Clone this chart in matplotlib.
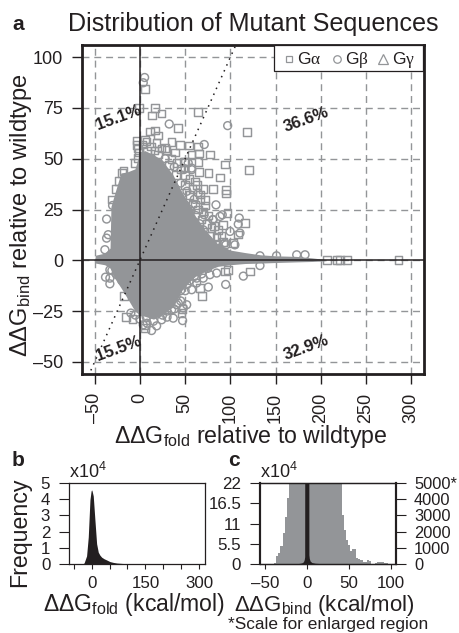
import matplotlib
matplotlib.use("Agg")
import matplotlib.pyplot as plt
from matplotlib.lines import Line2D
from matplotlib.patches import Rectangle

plt.rcParams['font.family'] = ['Liberation Sans', 'DejaVu Sans']
plt.rcParams['mathtext.fontset'] = 'custom'
plt.rcParams['mathtext.rm'] = 'Liberation Sans'
plt.rcParams['mathtext.it'] = 'Liberation Sans'
plt.rcParams['mathtext.default'] = 'regular'

GREY = '#939598'
INK = '#231f20'

# ---- panel a: dense cloud envelope
cloud_x = [-50, -49, -39, -33, -32, -28.4, -21, -14, -5.5, 0, 5.5, 15, 24, 30, 36.6, 46, 54, 61, 72, 86,
           100, 116, 133, 150, 173, 190, 199, 206]
cloud_top = [0.5, 2.5, 3.5, 6, 26.5, 32, 43, 43.5, 45, 53, 54, 52, 49.5, 46, 42, 34, 28, 22, 15, 8,
             5, 3.8, 2.7, 2.2, 1.9, 1.2, 0.7, 0.2]
cloud_low = [-0.5, -1.4, -2.2, -3.5, -5, -8.5, -13.5, -18.6, -25, -27, -27.6, -29, -27, -25, -23, -15, -11, -8, -5.5, -3,
             -2.2, -1.6, -1.4, -1.1, -0.8, -0.6, -0.4, -0.2]

# ---- panel a: individual outliers
sq_x = [5.9, -0.8, 16.6, 13.6, 24, 64.2, 42.4, 118.4, 120.6, 94, 88.5, 77.4, 75.6, 64.5, 54.5, 44.2, 35, 65.6, 64.9,
        65.6, 57.2, 48.7, 41.3, 38.7, 29.5, -3.7, 5.9, 11, 16.6, 20.2, 60.8, 95.1, 95.1, 81, 70, 97, -3, 7.4, 18.5,
        27.7, -1.9, 49.8, 71.9, 60.8, 79.3, 84.8, 66.4, 116, 108.7, 103.2, 92.1,
        68.3, 66.4, 46.1, 5.5, -15.5, -8.1, -17.4, 121.7, 94, 97.7, 47.2, 5.5,
        206.5, 217.6, 221.2, 228.6, 285.7,
        35, 32, 45, 40, 50, 55, 50, 58, 55, 63, 67, 72, 70, 76, 74, 82, 78, 86, 90, 84, 92, 68, 64, 58,
        -2, 3, 8, 12, 16, 20, 24, -1, 3, -20, -27, -23, -18, -6, -31]
sq_y = [84.3, 75, 75, 71.2, 72.3, 73, 65.1, 63.2, 44.4, 47.2, 40.8, 52, 43.1, 56.1, 56.6, 56.7, 58.2, 52.5, 48.4,
        43.6, 52, 48.5, 48, 53.1, 54.4, 59, 59.4, 63.4, 63.9, 61.5, 38.8, 34.7, 32.8, 35.2, 35.2, 23.4, 56.9, 58.5, 57.7,
        55.3, 50.3, 48.7, 29.8, 27.3, 15.9, 11.4, 32.3, 18.3, 12.6, 8.5, 17.5,
        -17.5, -13.7, -26, -33.4, -27.8, -29, -17.5, -5.5, -5.5, -4.7, -24, -31.8,
        0, 0, 0, 0, 0,
        50, 47, 45, 42, 42, 40, 37, 35, 32, 37, 30, 27, 24, 22, 18, 17, 12, 15, 12, 8, 9, 20, 25, 28,
        55, 57, 54, 56, 54, 52, 55, 53, 51, 43, 35, 39, 44, 48, 30]
ci_x = [5.2, 3.7, 32.4, 97, 71.1, 57.2, 84.1, 109.8, 88.5, -36.8, -30.2, -36.8, -35, -38.7, 108.7, 110.6, 99.6, 80.4,
        91, 95, 173.3, 182.5, 151, 132.7, 57.2, 53.4, 81, 71, 64.5, 49.8, 105, 94,
        -33.2, -38, -33.2, -33.2, 94.8, 114.3, 132.7, 75.6, 70, 62.7, 51.7, 47.2, 36.8, 12.9, 18.5, 3.7, 42.4, 57.2,
        84.8, 77.4, 68.3, 24, 40.6, 47.9, 35, 62.7,
        38, 45, 52, 60, 62, 66, 70, 75, 80, 88, 55, 50, 28,
        30, 35, 40, 45, 50, 55, 60, 65, 75, 30, 25, 15, 8, 52, 45, 38, 32, -5, 0, 7, -10, -20, -26, -31, -28]
ci_y = [90, 87.4, 67.1, 66.3, 57, 45.4, 27.3, 20.8, 21.6, 20.3, 27, 10.9, 12.6, 5.2, 17.8, 13.4, 14.2, 20,
        22.4, 7.6, 2.7, 2.7, 2.2, 2.2, 44.6, 47.9, 20, 22.4, 33.1, 27.3, 7.6, 8.5,
        -4.7, -8.3, -11.6, -8.8, -11.9, -7.8, -2.6, -13.2, -8.8, -8.8, -21.9, -29.7, -28.5, -34.6, -32.3, -31.8, -21.1, -14.5,
        -6.3, -7.1, -6.7, -29.3, -21.9, -23.5, -24.4, -11.2,
        46, 38, 34, 30, 22, 18, 15, 10, 8, 6, 25, 45, 50,
        -25, -20, -18, -15, -15, -10, -8, -5, -4, -28, -27, -30, -31, -12, -20, -24, -21, -27, -29, -28, -26, -10, -7, -5, -3]

ticks_ax = [-50, 0, 50, 100, 150, 200, 250, 300]
ticks_ay = [-50, -25, 0, 25, 50, 75, 100]
labels_ax = ['\u201350', '0', '50', '100', '150', '200', '250', '300']
labels_ay = ['\u201350', '\u201325', '0', '25', '50', '75', '100']
pct_x = [-23, 184, -24, 184]
pct_y = [70, 69, -43.5, -43]
pct_labels = ['15.1%', '36.6%', '15.5%', '32.9%']

# ---- panel b
b_x = [-30, -25, -21, -14, -9.3, -4.6, -1.5, 0, 1.5, 4.6, 9.3, 14, 18.6, 23, 28, 35, 42, 51, 60, 70, 85, 98, 130, 180, 300]
b_y = [0, 0.01, 0.06, 0.5, 1.67, 3.96, 4.5, 4.58, 4.5, 4.2, 2.7, 1.25, 0.73, 0.55, 0.42, 0.32, 0.25, 0.15, 0.1, 0.06, 0.035, 0.02, 0.012, 0.006, 0.003]
b_xticks = [-50, 0, 50, 100, 150, 200, 250, 300]
b_xlabels = ['', '0', '', '', '150', '', '', '300']
b_yticks = [0, 1, 2, 3, 4, 5]

# ---- panel c
c_bins = [-40, -37.5, -35, -32.5, -30, -27.5, -25, -22.5, -20, -17.5, -15, -12.5, -10, -7.5, -5, -2.5, 0, 2.5, 5, 7.5,
          10, 12.5, 15, 17.5, 20, 22.5, 25, 27.5, 30, 32.5, 35, 37.5, 40, 42.5, 45, 47.5, 50, 52.5, 55, 57.5,
          60, 62.5, 65, 67.5, 70, 72.5, 75, 77.5, 80, 82.5, 85, 87.5, 90, 92.5, 95, 97.5, 100]
c_grey = [20, 60, 500, 700, 1100, 1900, 2900, 4100, 5600, 8000, 12000, 16000, 20000, 20000, 20000, 20000, 20000, 20000, 20000, 20000,
          20000, 20000, 20000, 20000, 16000, 14000, 12000, 10000, 9000, 8000, 7000, 6000, 5600, 3000, 2100, 1500, 1150, 800, 900, 950,
          400, 300, 220, 150, 120, 230, 200, 30, 30, 40, 120, 120, 120, 40, 50, 20, 10]
c_black_x = [-20, -10, -6, -4, -3, -2.5, -2.4, 2.4, 2.5, 3, 4, 6, 10, 20]
c_black_y = [0.05, 0.12, 0.3, 0.6, 1.2, 2, 40, 40, 2.5, 1.5, 0.8, 0.4, 0.2, 0.05]
c_xticks = [-50, 0, 50, 100]
c_xlabels = ['\u201350', '0', '50', '100']
c_lticks = [0, 5.5, 11, 16.5, 22]
c_llabels = ['0', '5.5', '11', '16.5', '22']
c_rticks = [0, 1000, 2000, 3000, 4000, 5000]
c_rlabels = ['0', '1000', '2000', '3000', '4000', '5000*']

W, H = 459, 633
fig = plt.figure(figsize=(W / 100, H / 100), dpi=100, facecolor='white')


def axes_px(l, t, r, b):
    return fig.add_axes([l / W, 1 - b / H, (r - l) / W, (b - t) / H])


def ftext(x, y, s, **kw):
    return fig.text(x / W, 1 - y / H, s, **kw)


# ===== panel a =====
ax = axes_px(82, 45, 424, 374)
ax.set_xlim(-64, 314)
ax.set_ylim(-56, 106)
ax.set_axisbelow(True)
dash = (0, (5, 3.5))
for v in ticks_ax:
    ax.axvline(v, color=GREY, lw=1, ls=dash, zorder=1)
for v in ticks_ay:
    ax.axhline(v, color=GREY, lw=1, ls=dash, zorder=1)
ax.scatter(sq_x, sq_y, marker='s', s=30, facecolors='none', edgecolors=GREY, linewidths=1.05, zorder=2)
ax.scatter(ci_x, ci_y, marker='o', s=32, facecolors='none', edgecolors=GREY, linewidths=1.05, zorder=2)
ax.fill_between(cloud_x, cloud_low, cloud_top, color=GREY, lw=0, zorder=3)
ax.axhline(0, color=INK, lw=1.1, zorder=4)
ax.axvline(0, color=INK, lw=1.1, zorder=4)
ax.plot([-60, 110], [-60, 110], color=INK, lw=1.1, ls=(0, (1, 3.2)), zorder=5)
ax.set_xticks(ticks_ax, labels_ax, rotation=90, fontsize=13)
ax.set_yticks(ticks_ay, labels_ay, fontsize=13)
ax.tick_params(axis='both', length=7.5, width=1, color=INK, labelcolor=INK, pad=6)
for s in ax.spines.values():
    s.set_linewidth(2)
    s.set_color(INK)
    s.set_zorder(8)
for x, y, t in zip(pct_x, pct_y, pct_labels):
    ax.text(x, y, t, rotation=20, fontsize=12, fontweight='bold', color=INK, ha='center', va='center', zorder=7)
ftext(251, 437, '\u0394\u0394G$_{fold}$ relative to wildtype', fontsize=16.7, color=INK, va='center', ha='center')
ftext(21.5, 215, '\u0394\u0394G$_{bind}$ relative to wildtype', fontsize=17, color=INK, rotation=90, va='center', ha='center')

# legend
fig.add_artist(Rectangle((274 / W, 1 - 71 / H), (423 - 274) / W, 26 / H, transform=fig.transFigure,
                         facecolor='white', edgecolor=INK, lw=0.9, zorder=6))
for mx, m, ms in [(289, 's', 5.0), (336.7, 'o', 5.4), (383, '^', 6.6)]:
    fig.add_artist(Line2D([mx / W], [1 - 58.5 / H], marker=m, ms=ms, mfc='none', mec=GREY, mew=0.9,
                          ls='none', transform=fig.transFigure, zorder=7))
for gx, ch in [(297, '\u03b1'), (345, '\u03b2'), (392.5, '\u03b3')]:
    ftext(gx, 59, 'G', fontsize=12.5, color=INK, va='center', ha='left', zorder=7)
    ftext(gx + 13.5, 60, ch, fontsize=12.5, color=INK, va='center', ha='left', family='Liberation Serif', zorder=7)

ftext(12, 25, 'a', fontsize=15, fontweight='bold', color=INK, va='center')
ftext(68, 24, 'Distribution of Mutant Sequences', fontsize=18.1, color=INK, va='center', ha='left')

# ===== panel b =====
axb = axes_px(69, 483, 205, 564)
axb.set_xlim(-63, 316)
axb.set_ylim(0, 5)
axb.fill_between(b_x, 0, b_y, color=INK, lw=0)
axb.set_xticks(b_xticks, b_xlabels, fontsize=12.2)
axb.set_yticks(b_yticks, [str(v) for v in b_yticks], fontsize=12.2)
axb.tick_params(axis='x', length=3.5, width=0.8, color=INK, labelcolor=INK, pad=5)
axb.tick_params(axis='y', length=7, width=0.8, color=INK, labelcolor=INK, pad=6.5)
for s in axb.spines.values():
    s.set_linewidth(0.9)
    s.set_color(INK)
ftext(69, 472, 'x10$^4$', fontsize=13, color=INK, va='center', ha='left')
ftext(134, 605, '\u0394\u0394G$_{fold}$ (kcal/mol)', fontsize=16.6, color=INK, va='center', ha='center')
ftext(20, 532, 'Frequency', fontsize=16.7, color=INK, rotation=90, va='center', ha='center')
ftext(12, 460, 'b', fontsize=15, fontweight='bold', color=INK, va='center')

# ===== panel c =====
axc = axes_px(260, 483, 396, 564)
axc.set_xlim(-55.6, 106)
axc.set_ylim(0, 5000)
axc.bar(c_bins, c_grey, width=2.5, color=GREY, lw=0, align='center')
axc.set_xticks(c_xticks, c_xlabels, fontsize=12.2)
axc.tick_params(axis='x', length=3.5, width=0.8, color=INK, labelcolor=INK, pad=5)
axl = axc.twinx()
axl.set_ylim(0, 22)
axl.fill_between(c_black_x, 0, c_black_y, color=INK, lw=0)
axl.yaxis.tick_left()
axl.set_yticks(c_lticks, c_llabels, fontsize=12.2)
axl.tick_params(axis='y', length=7, width=0.8, color=INK, labelcolor=INK, pad=6.5)
axc.yaxis.tick_right()
axc.set_yticks(c_rticks, c_rlabels, fontsize=11.8)
axc.tick_params(axis='y', length=7, width=0.8, color=INK, labelcolor=INK, pad=6)
for a in (axc, axl):
    for k, s in a.spines.items():
        s.set_color(INK)
        s.set_linewidth(1.5 if k in ('left', 'right') else 0.9)
ftext(260, 472, 'x10$^4$', fontsize=13, color=INK, va='center', ha='left')
ftext(324.5, 605, '\u0394\u0394G$_{bind}$ (kcal/mol)', fontsize=16, color=INK, va='center', ha='center')
ftext(328, 625, '*Scale for enlarged region', fontsize=12.4, color=INK, va='center', ha='center')
ftext(228, 460, 'c', fontsize=15, fontweight='bold', color=INK, va='center')

fig.savefig('out.png', dpi=100)
